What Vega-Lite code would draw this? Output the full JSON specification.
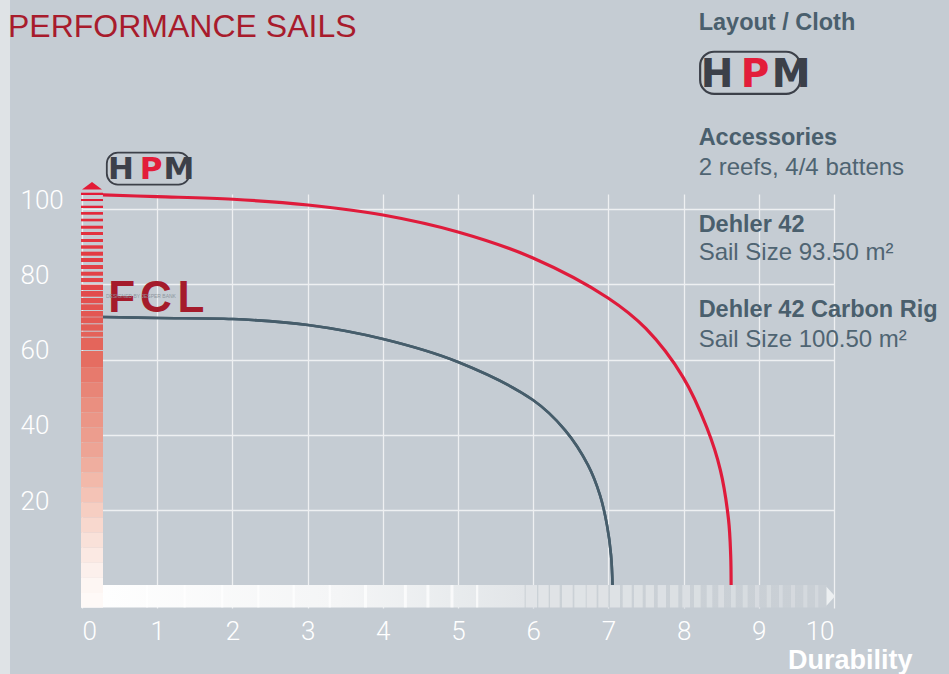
{
  "$schema": "https://vega.github.io/schema/vega-lite/v6.json",
  "width": 752,
  "height": 414,
  "autosize": {"type": "none"},
  "padding": {"left": 82, "top": 194, "right": 115, "bottom": 66},
  "background": "#c5ccd3",
  "config": {
    "view": {"stroke": null},
    "font": "Liberation Sans"
  },
  "datasets": {
    "curves": [
      {"s": "HPM", "x": 0.279, "y": 103.75},
      {"s": "HPM", "x": 0.997, "y": 103.3},
      {"s": "HPM", "x": 2.008, "y": 102.6},
      {"s": "HPM", "x": 3.005, "y": 101.07},
      {"s": "HPM", "x": 4.003, "y": 98.41},
      {"s": "HPM", "x": 5.0, "y": 93.9},
      {"s": "HPM", "x": 5.997, "y": 86.99},
      {"s": "HPM", "x": 6.995, "y": 76.36},
      {"s": "HPM", "x": 7.5, "y": 68.2},
      {"s": "HPM", "x": 7.992, "y": 55.36},
      {"s": "HPM", "x": 8.311, "y": 41.82},
      {"s": "HPM", "x": 8.489, "y": 30.66},
      {"s": "HPM", "x": 8.598, "y": 17.38},
      {"s": "HPM", "x": 8.626, "y": 8.08},
      {"s": "HPM", "x": 8.632, "y": 0.1},
      {"s": "FCL", "x": 0.279, "y": 71.31},
      {"s": "FCL", "x": 1.011, "y": 71.05},
      {"s": "FCL", "x": 2.008, "y": 70.78},
      {"s": "FCL", "x": 3.005, "y": 69.19},
      {"s": "FCL", "x": 4.003, "y": 65.47},
      {"s": "FCL", "x": 5.0, "y": 59.36},
      {"s": "FCL", "x": 5.997, "y": 49.26},
      {"s": "FCL", "x": 6.423, "y": 41.28},
      {"s": "FCL", "x": 6.729, "y": 31.98},
      {"s": "FCL", "x": 6.888, "y": 24.02},
      {"s": "FCL", "x": 6.981, "y": 16.05},
      {"s": "FCL", "x": 7.035, "y": 8.08},
      {"s": "FCL", "x": 7.055, "y": 0.1}
    ],
    "vstripes": [
      {"y0": 104.34, "y1": 103.73}, {"y0": 102.67, "y1": 102.13}, {"y0": 100.89, "y1": 100.28},
      {"y0": 99.21, "y1": 98.5}, {"y0": 97.43, "y1": 96.74}, {"y0": 95.57, "y1": 94.78},
      {"y0": 93.9, "y1": 93.1}, {"y0": 92.04, "y1": 91.24}, {"y0": 90.37, "y1": 89.46},
      {"y0": 88.67, "y1": 87.6}, {"y0": 86.99, "y1": 85.93}, {"y0": 85.13, "y1": 84.07},
      {"y0": 83.35, "y1": 82.29}, {"y0": 81.68, "y1": 80.62}, {"y0": 79.9, "y1": 78.49},
      {"y0": 78.22, "y1": 76.71}, {"y0": 76.36, "y1": 74.96}, {"y0": 74.69, "y1": 73.18},
      {"y0": 72.91, "y1": 71.39}, {"y0": 71.24, "y1": 69.64}, {"y0": 69.38, "y1": 67.68},
      {"y0": 67.41, "y1": 66.08}, {"y0": 65.82, "y1": 62.55},
      {"y0": 62.28, "y1": 58}, {"y0": 58, "y1": 54}, {"y0": 54, "y1": 50}, {"y0": 50, "y1": 46},
      {"y0": 46, "y1": 42}, {"y0": 42, "y1": 38}, {"y0": 38, "y1": 34}, {"y0": 34, "y1": 30},
      {"y0": 30, "y1": 26}, {"y0": 26, "y1": 22}, {"y0": 22, "y1": 18}, {"y0": 18, "y1": 14},
      {"y0": 14, "y1": 10}, {"y0": 10, "y1": 6}, {"y0": 6, "y1": 2}, {"y0": 2, "y1": -2},
      {"y0": -2, "y1": -5.9}
    ],
    "hstripes": [
      {"x0": 5.9, "x1": 6.051}, {"x0": 6.068, "x1": 6.206}, {"x0": 6.223, "x1": 6.352},
      {"x0": 6.383, "x1": 6.525}, {"x0": 6.547, "x1": 6.698}, {"x0": 6.711, "x1": 6.844},
      {"x0": 6.866, "x1": 6.999}, {"x0": 7.021, "x1": 7.154}, {"x0": 7.19, "x1": 7.31},
      {"x0": 7.34, "x1": 7.456}, {"x0": 7.496, "x1": 7.606}, {"x0": 7.656, "x1": 7.766},
      {"x0": 7.819, "x1": 7.93}, {"x0": 7.983, "x1": 8.085}, {"x0": 8.138, "x1": 8.227},
      {"x0": 8.307, "x1": 8.382}, {"x0": 8.461, "x1": 8.537}, {"x0": 8.63, "x1": 8.693},
      {"x0": 8.786, "x1": 8.852}, {"x0": 8.949, "x1": 9.007}, {"x0": 9.105, "x1": 9.162},
      {"x0": 9.269, "x1": 9.318}, {"x0": 9.428, "x1": 9.481}, {"x0": 9.592, "x1": 9.645},
      {"x0": 9.747, "x1": 9.791}
    ],
    "bands": [
      {"x0": 0.85, "x1": 0.88}, {"x0": 1.35, "x1": 1.38}, {"x0": 1.85, "x1": 1.88},
      {"x0": 2.33, "x1": 2.36}, {"x0": 2.8, "x1": 2.83}, {"x0": 3.28, "x1": 3.31},
      {"x0": 3.75, "x1": 3.79}, {"x0": 4.28, "x1": 4.32}, {"x0": 4.58, "x1": 4.62},
      {"x0": 4.9, "x1": 4.94}, {"x0": 5.24, "x1": 5.27}
    ]
  },
  "resolve": {"scale": {"color": "independent"}},
  "layer": [
    {
      "data": {"name": "curves"},
      "transform": [{"filter": "datum.s === 'FCL'"}],
      "mark": {"type": "line", "interpolate": "catmull-rom", "color": "#465d6b", "strokeWidth": 2.6},
      "encoding": {
        "x": {"field": "x", "type": "quantitative", "title": "Durability", "scale": {"domain": [0, 10], "nice": false, "zero": false},
          "axis": {"values": [0,1,2,3,4,5,6,7,8,9,10], "format": "d", "grid": true, "gridColor": "#eef0f2", "gridWidth": 1.3, "ticks": false, "domain": false, "labelPadding": 10, "labelFont": "Roboto", "labelFontWeight": 300, "labelFontSize": 26, "labelColor": "#ffffff", "titleColor": "#ffffff", "titleFont": "Liberation Sans", "titleFontWeight": "bold", "titleFontSize": 27, "titleX": 830, "titleY": 60, "titleAlign": "right", "titleBaseline": "alphabetic", "titleAnchor": "end"}},
        "y": {"field": "y", "type": "quantitative", "title": null, "scale": {"domain": [-6, 104], "nice": false, "zero": false},
          "axis": {"values": [20,40,60,80,100], "format": "d", "grid": true, "gridColor": "#eef0f2", "gridWidth": 1.3, "ticks": false, "domain": false, "labelAlign": "left", "labelPadding": 62, "labelOffset": -9, "labelBaseline": "middle", "labelFont": "Roboto", "labelFontWeight": 300, "labelFontSize": 26, "labelColor": "#ffffff"}}
      }
    },
    {
      "data": {"values": [{}]},
      "mark": {"type": "rect", "color": "#dfe3e6"},
      "encoding": {
        "x": {"datum": -1.1, "type": "quantitative", "title": "Durability", "scale": {"domain": [0, 10], "nice": false, "zero": false}},
        "x2": {"datum": -0.957},
        "y": {"datum": 160, "type": "quantitative", "title": null, "scale": {"domain": [-6, 104], "nice": false, "zero": false}},
        "y2": {"datum": -25}
      }
    },
    {
      "data": {"values": [{}]},
      "mark": {"type": "rect", "color": {"gradient": "linear", "x1": 0, "x2": 1, "y1": 0, "y2": 0, "stops": [
        {"offset": 0, "color": "#ffffff"},
        {"offset": 0.347, "color": "#f4f5f6"},
        {"offset": 0.495, "color": "#e9ecee"},
        {"offset": 0.594, "color": "#e2e5e8"},
        {"offset": 0.596, "color": "#cbd1d6"},
        {"offset": 1, "color": "#c9cfd5"}
      ]}},
      "encoding": {
        "x": {"datum": -0.0133, "type": "quantitative", "title": "Durability", "scale": {"domain": [0, 10], "nice": false, "zero": false}},
        "x2": {"datum": 9.903},
        "y": {"datum": 0.1, "type": "quantitative", "title": null, "scale": {"domain": [-6, 104], "nice": false, "zero": false}},
        "y2": {"datum": -5.85}
      }
    },
    {
      "data": {"name": "bands"},
      "mark": {"type": "rect", "color": "#ffffff", "opacity": 0.7},
      "encoding": {
        "x": {"field": "x0", "type": "quantitative", "title": "Durability", "scale": {"domain": [0, 10], "nice": false, "zero": false}},
        "x2": {"field": "x1", "title": "Durability"},
        "y": {"datum": 0.1, "type": "quantitative", "title": null, "scale": {"domain": [-6, 104], "nice": false, "zero": false}},
        "y2": {"datum": -5.85}
      }
    },
    {
      "data": {"name": "hstripes"},
      "mark": {"type": "rect"},
      "encoding": {
        "x": {"field": "x0", "type": "quantitative", "title": "Durability", "scale": {"domain": [0, 10], "nice": false, "zero": false}},
        "x2": {"field": "x1", "title": "Durability"},
        "y": {"datum": 0.1, "type": "quantitative", "title": null, "scale": {"domain": [-6, 104], "nice": false, "zero": false}},
        "y2": {"datum": -5.85},
        "color": {"field": "x0", "type": "quantitative", "legend": null, "scale": {"domain": [5.9, 7.5, 9.8], "range": ["#e1e4e7", "#dde1e4", "#d3d8dd"]}}
      }
    },
    {
      "data": {"name": "vstripes"},
      "mark": {"type": "rect"},
      "encoding": {
        "x": {"datum": -0.0133, "type": "quantitative", "title": "Durability", "scale": {"domain": [0, 10], "nice": false, "zero": false}},
        "x2": {"datum": 0.279},
        "y": {"field": "y0", "type": "quantitative", "title": null, "scale": {"domain": [-6, 104], "nice": false, "zero": false}},
        "y2": {"field": "y1", "title": null},
        "color": {"field": "y0", "type": "quantitative", "legend": null, "scale": {"domain": [-6, 4, 12, 20, 28, 36, 52, 64, 80, 104], "range": ["#fefcfb", "#fdf4f1", "#fae6df", "#f7d3c8", "#f3beb0", "#eea899", "#e98b7d", "#e4685d", "#e2474a", "#e31b36"]}}
      }
    },
    {
      "data": {"values": [{}]},
      "mark": {"type": "point", "shape": "M 0 -0.37 L 1 0.37 L -1 0.37 Z", "filled": true, "color": "#e31b36", "opacity": 1, "size": 400},
      "encoding": {
        "x": {"datum": 0.133, "type": "quantitative", "title": "Durability", "scale": {"domain": [0, 10], "nice": false, "zero": false}},
        "y": {"datum": 106.2, "type": "quantitative", "title": null, "scale": {"domain": [-6, 104], "nice": false, "zero": false}}
      }
    },
    {
      "data": {"values": [{}]},
      "mark": {"type": "point", "shape": "M -0.45 -1 L 0.45 0 L -0.45 1 Z", "filled": true, "color": "#eceff1", "opacity": 1, "size": 361},
      "encoding": {
        "x": {"datum": 9.957, "type": "quantitative", "title": "Durability", "scale": {"domain": [0, 10], "nice": false, "zero": false}},
        "y": {"datum": -2.87, "type": "quantitative", "title": null, "scale": {"domain": [-6, 104], "nice": false, "zero": false}}
      }
    },
    {
      "data": {"name": "curves"},
      "transform": [{"filter": "datum.s === 'FCL'"}],
      "mark": {"type": "line", "interpolate": "catmull-rom", "color": "#465d6b", "strokeWidth": 2.6},
      "encoding": {
        "x": {"field": "x", "type": "quantitative", "title": "Durability", "scale": {"domain": [0, 10], "nice": false, "zero": false}},
        "y": {"field": "y", "type": "quantitative", "title": null, "scale": {"domain": [-6, 104], "nice": false, "zero": false}}
      }
    },
    {
      "data": {"name": "curves"},
      "transform": [{"filter": "datum.s === 'HPM'"}],
      "mark": {"type": "line", "interpolate": "catmull-rom", "color": "#df1b3b", "strokeWidth": 3.2},
      "encoding": {
        "x": {"field": "x", "type": "quantitative", "title": "Durability", "scale": {"domain": [0, 10], "nice": false, "zero": false}},
        "y": {"field": "y", "type": "quantitative", "title": null, "scale": {"domain": [-6, 104], "nice": false, "zero": false}}
      }
    },
    {
      "data": {"values": [{}]},
      "mark": {"type": "text", "text": "PERFORMANCE SAILS", "font": "Liberation Sans", "fontSize": 32, "color": "#a81b2c", "align": "left", "baseline": "alphabetic"},
      "encoding": {
        "x": {"datum": -0.984, "type": "quantitative", "title": "Durability", "scale": {"domain": [0, 10], "nice": false, "zero": false}},
        "y": {"datum": 145.63, "type": "quantitative", "title": null, "scale": {"domain": [-6, 104], "nice": false, "zero": false}}
      }
    },
    {
      "data": {"values": [{}]},
      "mark": {"type": "text", "text": "Layout / Cloth", "font": "Liberation Sans", "fontWeight": "bold", "fontSize": 23.5, "color": "#4a5f6d", "align": "left", "baseline": "alphabetic"},
      "encoding": {
        "x": {"datum": 8.2, "type": "quantitative", "title": "Durability", "scale": {"domain": [0, 10], "nice": false, "zero": false}},
        "y": {"datum": 147.7, "type": "quantitative", "title": null, "scale": {"domain": [-6, 104], "nice": false, "zero": false}}
      }
    },
    {
      "data": {"values": [{}]},
      "mark": {"type": "text", "text": "Accessories", "font": "Liberation Sans", "fontWeight": "bold", "fontSize": 23.5, "color": "#4a5f6d", "align": "left", "baseline": "alphabetic"},
      "encoding": {
        "x": {"datum": 8.2, "type": "quantitative", "title": "Durability", "scale": {"domain": [0, 10], "nice": false, "zero": false}},
        "y": {"datum": 117.02, "type": "quantitative", "title": null, "scale": {"domain": [-6, 104], "nice": false, "zero": false}}
      }
    },
    {
      "data": {"values": [{}]},
      "mark": {"type": "text", "text": "2 reefs, 4/4 battens", "font": "Liberation Sans", "fontSize": 24, "color": "#4f6472", "align": "left", "baseline": "alphabetic"},
      "encoding": {
        "x": {"datum": 8.2, "type": "quantitative", "title": "Durability", "scale": {"domain": [0, 10], "nice": false, "zero": false}},
        "y": {"datum": 109.05, "type": "quantitative", "title": null, "scale": {"domain": [-6, 104], "nice": false, "zero": false}}
      }
    },
    {
      "data": {"values": [{}]},
      "mark": {"type": "text", "text": "Dehler 42", "font": "Liberation Sans", "fontWeight": "bold", "fontSize": 23.5, "color": "#4a5f6d", "align": "left", "baseline": "alphabetic"},
      "encoding": {
        "x": {"datum": 8.2, "type": "quantitative", "title": "Durability", "scale": {"domain": [0, 10], "nice": false, "zero": false}},
        "y": {"datum": 93.9, "type": "quantitative", "title": null, "scale": {"domain": [-6, 104], "nice": false, "zero": false}}
      }
    },
    {
      "data": {"values": [{}]},
      "mark": {"type": "text", "text": "Sail Size 93.50 m²", "font": "Liberation Sans", "fontSize": 24, "color": "#4f6472", "align": "left", "baseline": "alphabetic"},
      "encoding": {
        "x": {"datum": 8.2, "type": "quantitative", "title": "Durability", "scale": {"domain": [0, 10], "nice": false, "zero": false}},
        "y": {"datum": 86.46, "type": "quantitative", "title": null, "scale": {"domain": [-6, 104], "nice": false, "zero": false}}
      }
    },
    {
      "data": {"values": [{}]},
      "mark": {"type": "text", "text": "Dehler 42 Carbon Rig", "font": "Liberation Sans", "fontWeight": "bold", "fontSize": 23.5, "color": "#4a5f6d", "align": "left", "baseline": "alphabetic"},
      "encoding": {
        "x": {"datum": 8.2, "type": "quantitative", "title": "Durability", "scale": {"domain": [0, 10], "nice": false, "zero": false}},
        "y": {"datum": 71.31, "type": "quantitative", "title": null, "scale": {"domain": [-6, 104], "nice": false, "zero": false}}
      }
    },
    {
      "data": {"values": [{}]},
      "mark": {"type": "text", "text": "Sail Size 100.50 m²", "font": "Liberation Sans", "fontSize": 24, "color": "#4f6472", "align": "left", "baseline": "alphabetic"},
      "encoding": {
        "x": {"datum": 8.2, "type": "quantitative", "title": "Durability", "scale": {"domain": [0, 10], "nice": false, "zero": false}},
        "y": {"datum": 63.34, "type": "quantitative", "title": null, "scale": {"domain": [-6, 104], "nice": false, "zero": false}}
      }
    },
    {
      "data": {"values": [{}]},
      "mark": {"type": "rect", "filled": false, "stroke": "#3c4049", "strokeWidth": 2.2, "cornerRadius": 14},
      "encoding": {
        "x": {"datum": 8.22, "type": "quantitative", "title": "Durability", "scale": {"domain": [0, 10], "nice": false, "zero": false}},
        "x2": {"datum": 9.55},
        "y": {"datum": 141.8, "type": "quantitative", "title": null, "scale": {"domain": [-6, 104], "nice": false, "zero": false}},
        "y2": {"datum": 130.6}
      }
    },
    {
      "data": {"values": [{}]},
      "mark": {"type": "text", "text": "H", "font": "DejaVu Sans", "fontWeight": "bold", "fontSize": 39, "color": "#3c4049", "align": "center", "baseline": "alphabetic"},
      "encoding": {
        "x": {"datum": 8.444, "type": "quantitative", "title": "Durability", "scale": {"domain": [0, 10], "nice": false, "zero": false}},
        "y": {"datum": 132.43, "type": "quantitative", "title": null, "scale": {"domain": [-6, 104], "nice": false, "zero": false}}
      }
    },
    {
      "data": {"values": [{}]},
      "mark": {"type": "text", "text": "P", "font": "DejaVu Sans", "fontWeight": "bold", "fontSize": 39, "color": "#e31d3a", "align": "center", "baseline": "alphabetic"},
      "encoding": {
        "x": {"datum": 8.95, "type": "quantitative", "title": "Durability", "scale": {"domain": [0, 10], "nice": false, "zero": false}},
        "y": {"datum": 132.43, "type": "quantitative", "title": null, "scale": {"domain": [-6, 104], "nice": false, "zero": false}}
      }
    },
    {
      "data": {"values": [{}]},
      "mark": {"type": "text", "text": "M", "font": "DejaVu Sans", "fontWeight": "bold", "fontSize": 39, "color": "#3c4049", "align": "center", "baseline": "alphabetic"},
      "encoding": {
        "x": {"datum": 9.43, "type": "quantitative", "title": "Durability", "scale": {"domain": [0, 10], "nice": false, "zero": false}},
        "y": {"datum": 132.43, "type": "quantitative", "title": null, "scale": {"domain": [-6, 104], "nice": false, "zero": false}}
      }
    },
    {
      "data": {"values": [{}]},
      "mark": {"type": "rect", "filled": false, "stroke": "#3c4049", "strokeWidth": 1.8, "cornerRadius": 11},
      "encoding": {
        "x": {"datum": 0.33, "type": "quantitative", "title": "Durability", "scale": {"domain": [0, 10], "nice": false, "zero": false}},
        "x2": {"datum": 1.43},
        "y": {"datum": 115.0, "type": "quantitative", "title": null, "scale": {"domain": [-6, 104], "nice": false, "zero": false}},
        "y2": {"datum": 106.5}
      }
    },
    {
      "data": {"values": [{}]},
      "mark": {"type": "text", "text": "H", "font": "DejaVu Sans", "fontWeight": "bold", "fontSize": 31, "color": "#3c4049", "align": "center", "baseline": "alphabetic"},
      "encoding": {
        "x": {"datum": 0.519, "type": "quantitative", "title": "Durability", "scale": {"domain": [0, 10], "nice": false, "zero": false}},
        "y": {"datum": 107.9, "type": "quantitative", "title": null, "scale": {"domain": [-6, 104], "nice": false, "zero": false}}
      }
    },
    {
      "data": {"values": [{}]},
      "mark": {"type": "text", "text": "P", "font": "DejaVu Sans", "fontWeight": "bold", "fontSize": 31, "color": "#e31d3a", "align": "center", "baseline": "alphabetic"},
      "encoding": {
        "x": {"datum": 0.918, "type": "quantitative", "title": "Durability", "scale": {"domain": [0, 10], "nice": false, "zero": false}},
        "y": {"datum": 107.9, "type": "quantitative", "title": null, "scale": {"domain": [-6, 104], "nice": false, "zero": false}}
      }
    },
    {
      "data": {"values": [{}]},
      "mark": {"type": "text", "text": "M", "font": "DejaVu Sans", "fontWeight": "bold", "fontSize": 31, "color": "#3c4049", "align": "center", "baseline": "alphabetic"},
      "encoding": {
        "x": {"datum": 1.29, "type": "quantitative", "title": "Durability", "scale": {"domain": [0, 10], "nice": false, "zero": false}},
        "y": {"datum": 107.9, "type": "quantitative", "title": null, "scale": {"domain": [-6, 104], "nice": false, "zero": false}}
      }
    },
    {
      "data": {"values": [{}]},
      "mark": {"type": "text", "text": "F", "font": "Liberation Sans", "fontWeight": "bold", "fontSize": 44, "color": "#a51b2b", "align": "center", "baseline": "alphabetic"},
      "encoding": {
        "x": {"datum": 0.528, "type": "quantitative", "title": "Durability", "scale": {"domain": [0, 10], "nice": false, "zero": false}},
        "y": {"datum": 72.72, "type": "quantitative", "title": null, "scale": {"domain": [-6, 104], "nice": false, "zero": false}}
      }
    },
    {
      "data": {"values": [{}]},
      "mark": {"type": "text", "text": "C", "font": "Liberation Sans", "fontWeight": "bold", "fontSize": 44, "color": "#a51b2b", "align": "center", "baseline": "alphabetic"},
      "encoding": {
        "x": {"datum": 0.984, "type": "quantitative", "title": "Durability", "scale": {"domain": [0, 10], "nice": false, "zero": false}},
        "y": {"datum": 72.72, "type": "quantitative", "title": null, "scale": {"domain": [-6, 104], "nice": false, "zero": false}}
      }
    },
    {
      "data": {"values": [{}]},
      "mark": {"type": "text", "text": "L", "font": "Liberation Sans", "fontWeight": "bold", "fontSize": 44, "color": "#a51b2b", "align": "center", "baseline": "alphabetic"},
      "encoding": {
        "x": {"datum": 1.45, "type": "quantitative", "title": "Durability", "scale": {"domain": [0, 10], "nice": false, "zero": false}},
        "y": {"datum": 72.72, "type": "quantitative", "title": null, "scale": {"domain": [-6, 104], "nice": false, "zero": false}}
      }
    },
    {
      "data": {"values": [{}]},
      "mark": {"type": "text", "text": "DESIGNED BY JESPER BANK", "font": "Liberation Sans", "fontSize": 5, "color": "#8d969e", "align": "left", "baseline": "alphabetic"},
      "encoding": {
        "x": {"datum": 0.319, "type": "quantitative", "title": "Durability", "scale": {"domain": [0, 10], "nice": false, "zero": false}},
        "y": {"datum": 76.4, "type": "quantitative", "title": null, "scale": {"domain": [-6, 104], "nice": false, "zero": false}}
      }
    }
  ]
}
